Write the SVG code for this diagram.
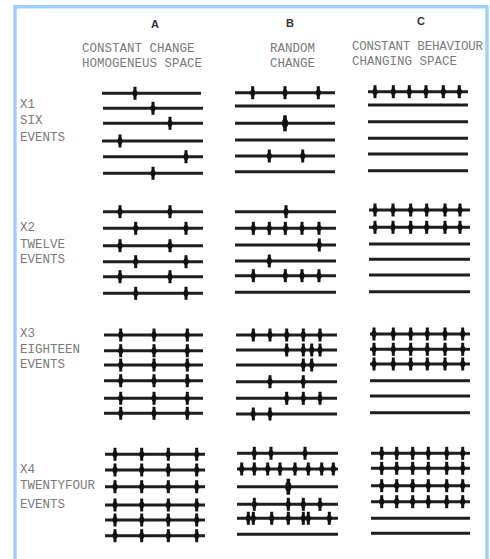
<svg xmlns="http://www.w3.org/2000/svg" width="490" height="559" viewBox="0 0 490 559">
<style>
.lbl{font-family:"Liberation Mono",monospace;font-size:12.5px;fill:#7a7a7a}
.hd{font-family:"Liberation Sans",Arial,sans-serif;font-size:11px;font-weight:bold;fill:#333;text-anchor:middle}
.ln2{stroke:#1e1e1e;stroke-width:3;fill:none}
</style>
<defs>
<g id="t" fill="#111"><rect x="-1.5" y="-6.5" width="3" height="13"/><ellipse rx="2.5" ry="3.4"/></g>
<g id="tb" fill="#111"><rect x="-1.8" y="-8" width="3.6" height="16"/><ellipse rx="3.2" ry="5"/></g>
</defs>
<rect width="490" height="559" fill="#fff"/>
<path d="M15,559 V6.7 H487 V559" fill="none" stroke="#9ecdff" stroke-width="3.4"/>

<g id="headers">
<text class="hd" x="155" y="28">A</text>
<text class="hd" x="290" y="27">B</text>
<text class="hd" x="421" y="25">C</text>
<text class="lbl" x="82" y="51.5">CONSTANT CHANGE</text>
<text class="lbl" x="82" y="66.5">HOMOGENEUS SPACE</text>
<text class="lbl" x="270" y="51.5">RANDOM</text>
<text class="lbl" x="270" y="66.5">CHANGE</text>
<text class="lbl" x="352" y="49.5" textLength="131">CONSTANT BEHAVIOUR</text>
<text class="lbl" x="352" y="64.5">CHANGING SPACE</text>
</g>

<g id="row-labels">
<text class="lbl" x="20" y="107.5">X1</text>
<text class="lbl" x="20" y="123.5">SIX</text>
<text class="lbl" x="20" y="140.5">EVENTS</text>
<text class="lbl" x="20" y="231">X2</text>
<text class="lbl" x="20" y="247.5">TWELVE</text>
<text class="lbl" x="20" y="262.5">EVENTS</text>
<text class="lbl" x="20" y="337">X3</text>
<text class="lbl" x="20" y="352.5">EIGHTEEN</text>
<text class="lbl" x="20" y="367.5">EVENTS</text>
<text class="lbl" x="20" y="472.5">X4</text>
<text class="lbl" x="20" y="489">TWENTYFOUR</text>
<text class="lbl" x="20" y="507.5">EVENTS</text>
</g>

<!-- X1 -->
<g id="x1-a">
<path class="ln2" d="M102,93.3H201M103,108.3H203M103,123.3H203M102,141H203M103,156.7H203M103,173.3H203"/>
<use href="#t" x="135" y="93.3"/><use href="#t" x="153" y="108.3"/><use href="#t" x="170" y="123.3"/>
<use href="#t" x="120" y="141"/><use href="#t" x="186" y="156.7"/><use href="#t" x="153" y="173.3"/>
</g>
<g id="x1-b">
<path class="ln2" d="M235,92.7H335M235,106H335M235,123.3H335M235,140H335M235,156H335M235,171.7H335"/>
<use href="#t" x="252.7" y="92.7"/><use href="#t" x="285" y="92.7"/><use href="#t" x="318.3" y="92.7"/>
<use href="#tb" x="285" y="123.3"/>
<use href="#t" x="269.3" y="156"/><use href="#t" x="302.7" y="156"/>
</g>
<g id="x1-c">
<path class="ln2" d="M368,91.7H468M368,105H468M368,121.7H468M368,138.3H468M368,154H468M368,170.7H468"/>
<use href="#t" x="375" y="91.7"/><use href="#t" x="393.3" y="91.7"/><use href="#t" x="409.3" y="91.7"/>
<use href="#t" x="426" y="91.7"/><use href="#t" x="443.3" y="91.7"/><use href="#t" x="459.3" y="91.7"/>
</g>

<!-- X2 -->
<g id="x2-a">
<path class="ln2" d="M103,211.7H203M103,228.3H203M103,245.7H203M103,261.7H203M103,276.7H203M103,293.3H203"/>
<use href="#t" x="120" y="211.7"/><use href="#t" x="170" y="211.7"/>
<use href="#t" x="135.7" y="228.3"/><use href="#t" x="186" y="228.3"/>
<use href="#t" x="120" y="245.7"/><use href="#t" x="170" y="245.7"/>
<use href="#t" x="135.7" y="261.7"/><use href="#t" x="186" y="261.7"/>
<use href="#t" x="120" y="276.7"/><use href="#t" x="170" y="276.7"/>
<use href="#t" x="135.7" y="293.3"/><use href="#t" x="186" y="293.3"/>
</g>
<g id="x2-b">
<path class="ln2" d="M235,211.7H336M235,228.3H336M235,245H336M235,261H336M235,275.7H336M235,292.3H336"/>
<use href="#t" x="286" y="211.7"/>
<use href="#t" x="253.3" y="228.3"/><use href="#t" x="269.3" y="228.3"/><use href="#t" x="285.3" y="228.3"/><use href="#t" x="302" y="228.3"/><use href="#t" x="319" y="228.3"/>
<use href="#t" x="319.3" y="245"/>
<use href="#t" x="269.3" y="261"/>
<use href="#t" x="253.3" y="275.7"/><use href="#t" x="285.3" y="275.7"/><use href="#t" x="302" y="275.7"/><use href="#t" x="319" y="275.7"/>
</g>
<g id="x2-c">
<path class="ln2" d="M369,210H470M369,227.3H470M369,244H470M369,259.3H470M369,275H470M369,291.7H470"/>
<use href="#t" x="375" y="210"/><use href="#t" x="393" y="210"/><use href="#t" x="410.7" y="210"/><use href="#t" x="426.7" y="210"/><use href="#t" x="445" y="210"/><use href="#t" x="460" y="210"/>
<use href="#t" x="375" y="227.3"/><use href="#t" x="393" y="227.3"/><use href="#t" x="410.7" y="227.3"/><use href="#t" x="426.7" y="227.3"/><use href="#t" x="445" y="227.3"/><use href="#t" x="460" y="227.3"/>
</g>

<!-- X3 -->
<g id="x3-a">
<path class="ln2" d="M104,335H203M104,350.7H203M104,365H203M104,380.7H203M104,398.3H203M104,413.3H203"/>
<use href="#t" x="120.7" y="335"/><use href="#t" x="154" y="335"/><use href="#t" x="187.3" y="335"/>
<use href="#t" x="120.7" y="350.7"/><use href="#t" x="154" y="350.7"/><use href="#t" x="187.3" y="350.7"/>
<use href="#t" x="120.7" y="365"/><use href="#t" x="154" y="365"/><use href="#t" x="187.3" y="365"/>
<use href="#t" x="120.7" y="380.7"/><use href="#t" x="154" y="380.7"/><use href="#t" x="187.3" y="380.7"/>
<use href="#t" x="120.7" y="398.3"/><use href="#t" x="154" y="398.3"/><use href="#t" x="187.3" y="398.3"/>
<use href="#t" x="120.7" y="413.3"/><use href="#t" x="154" y="413.3"/><use href="#t" x="187.3" y="413.3"/>
</g>
<g id="x3-b">
<path class="ln2" d="M236,335H337M236,350H337M236,365H337M236,381.7H337M236,398.3H337M236,414H337"/>
<use href="#t" x="253.3" y="335"/><use href="#t" x="270" y="335"/><use href="#t" x="286.7" y="335"/><use href="#t" x="303.3" y="335"/><use href="#t" x="320" y="335"/>
<use href="#t" x="286.7" y="350"/><use href="#t" x="303.3" y="350"/><use href="#t" x="311.7" y="350"/><use href="#t" x="320" y="350"/>
<use href="#t" x="303.3" y="365"/><use href="#t" x="311.7" y="365"/>
<use href="#t" x="270" y="381.7"/><use href="#t" x="303.3" y="381.7"/>
<use href="#t" x="286.7" y="398.3"/><use href="#t" x="303.3" y="398.3"/><use href="#t" x="320" y="398.3"/>
<use href="#t" x="253.3" y="414"/><use href="#t" x="270" y="414"/>
</g>
<g id="x3-c">
<path class="ln2" d="M370,334H470M370,349.3H470M370,364H470M370,380.7H470M370,396H470M370,412.7H470"/>
<use href="#t" x="374" y="334"/><use href="#t" x="393.3" y="334"/><use href="#t" x="410.7" y="334"/><use href="#t" x="427.3" y="334"/><use href="#t" x="445" y="334"/><use href="#t" x="462.7" y="334"/>
<use href="#t" x="374" y="349.3"/><use href="#t" x="393.3" y="349.3"/><use href="#t" x="410.7" y="349.3"/><use href="#t" x="427.3" y="349.3"/><use href="#t" x="445" y="349.3"/><use href="#t" x="462.7" y="349.3"/>
<use href="#t" x="374" y="364"/><use href="#t" x="393.3" y="364"/><use href="#t" x="410.7" y="364"/><use href="#t" x="427.3" y="364"/><use href="#t" x="445" y="364"/><use href="#t" x="462.7" y="364"/>
</g>

<!-- X4 -->
<g id="x4-a">
<path class="ln2" d="M105,454.3H205M105,470H205M105,486.7H205M105,505H205M105,520H205M105,535.7H205"/>
<use href="#t" x="115" y="454.3"/><use href="#t" x="141.7" y="454.3"/><use href="#t" x="168.3" y="454.3"/><use href="#t" x="196.7" y="454.3"/>
<use href="#t" x="115" y="470"/><use href="#t" x="141.7" y="470"/><use href="#t" x="168.3" y="470"/><use href="#t" x="196.7" y="470"/>
<use href="#t" x="115" y="486.7"/><use href="#t" x="141.7" y="486.7"/><use href="#t" x="168.3" y="486.7"/><use href="#t" x="196.7" y="486.7"/>
<use href="#t" x="115" y="505"/><use href="#t" x="141.7" y="505"/><use href="#t" x="168.3" y="505"/><use href="#t" x="196.7" y="505"/>
<use href="#t" x="115" y="520"/><use href="#t" x="141.7" y="520"/><use href="#t" x="168.3" y="520"/><use href="#t" x="196.7" y="520"/>
<use href="#t" x="115" y="535.7"/><use href="#t" x="141.7" y="535.7"/><use href="#t" x="168.3" y="535.7"/><use href="#t" x="196.7" y="535.7"/>
</g>
<g id="x4-b">
<path class="ln2" d="M237,453.3H338M237,469H338M237,486.7H338M237,504.3H338M237,518.3H338M237,534.3H338"/>
<use href="#t" x="254.3" y="453.3"/><use href="#t" x="271" y="453.3"/><use href="#t" x="305" y="453.3"/>
<use href="#t" x="241.7" y="469"/><use href="#t" x="254.3" y="469"/><use href="#t" x="267.7" y="469"/><use href="#t" x="280" y="469"/><use href="#t" x="295" y="469"/><use href="#t" x="308.3" y="469"/><use href="#t" x="321.7" y="469"/><use href="#t" x="333.3" y="469"/>
<use href="#tb" x="288.3" y="486.7"/>
<use href="#t" x="254.3" y="504.3"/><use href="#t" x="288.3" y="504.3"/><use href="#t" x="303.3" y="504.3"/><use href="#t" x="320" y="504.3"/>
<use href="#t" x="248.3" y="518.3"/><use href="#t" x="253.3" y="518.3"/><use href="#t" x="271.7" y="518.3"/><use href="#t" x="288.3" y="518.3"/><use href="#t" x="303.3" y="518.3"/><use href="#t" x="308.3" y="518.3"/><use href="#t" x="329.3" y="518.3"/>
</g>
<g id="x4-c">
<path class="ln2" d="M371,453.3H470M371,468.3H470M371,485.7H470M371,501.7H470M371,518.3H470M371,533.3H470"/>
<use href="#t" x="381.7" y="453.3"/><use href="#t" x="396.7" y="453.3"/><use href="#t" x="412.7" y="453.3"/><use href="#t" x="428.3" y="453.3"/><use href="#t" x="446.7" y="453.3"/><use href="#t" x="462.7" y="453.3"/>
<use href="#t" x="381.7" y="468.3"/><use href="#t" x="396.7" y="468.3"/><use href="#t" x="412.7" y="468.3"/><use href="#t" x="428.3" y="468.3"/><use href="#t" x="446.7" y="468.3"/><use href="#t" x="462.7" y="468.3"/>
<use href="#t" x="381.7" y="485.7"/><use href="#t" x="396.7" y="485.7"/><use href="#t" x="412.7" y="485.7"/><use href="#t" x="428.3" y="485.7"/><use href="#t" x="446.7" y="485.7"/><use href="#t" x="462.7" y="485.7"/>
<use href="#t" x="381.7" y="501.7"/><use href="#t" x="396.7" y="501.7"/><use href="#t" x="412.7" y="501.7"/><use href="#t" x="428.3" y="501.7"/><use href="#t" x="446.7" y="501.7"/><use href="#t" x="462.7" y="501.7"/>
</g>
</svg>
